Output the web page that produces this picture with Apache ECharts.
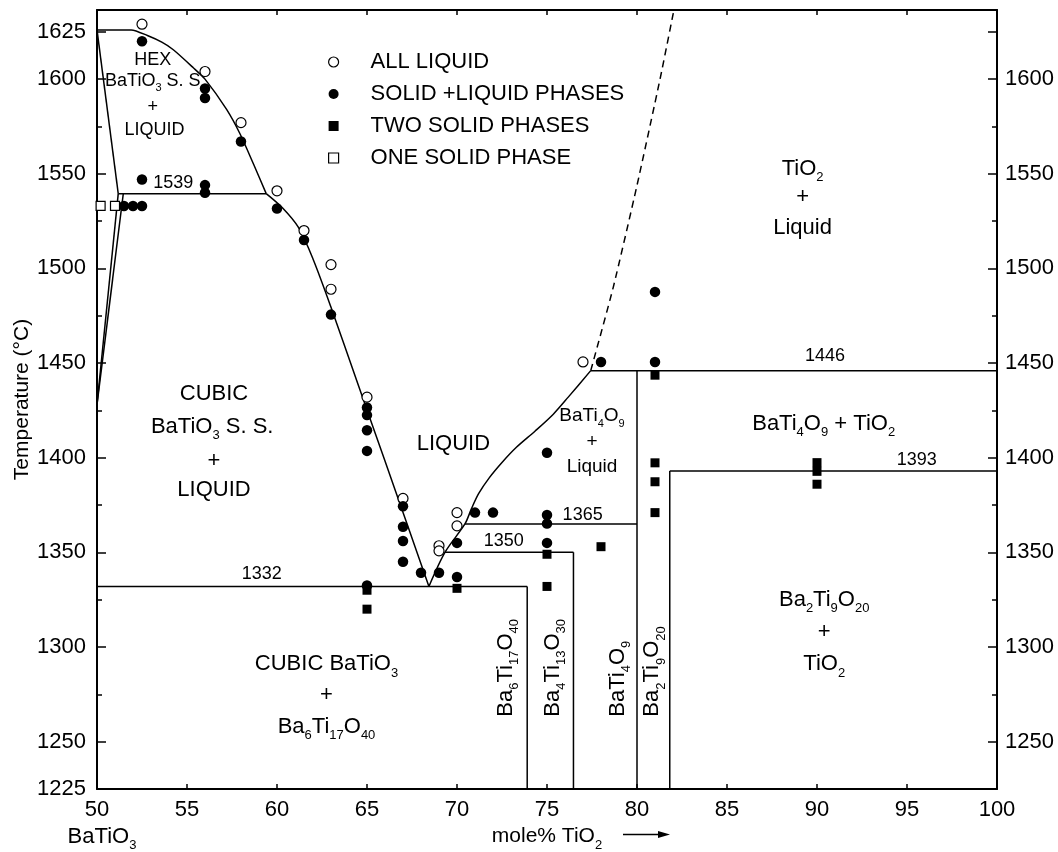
<!DOCTYPE html>
<html><head><meta charset="utf-8">
<script src="https://cdn.jsdelivr.net/npm/echarts@6/dist/echarts.min.js"></script>
<style>html,body{margin:0;padding:0;background:#fff}#c{width:1058px;height:852px}</style>
</head><body><div id="c"></div>
<script>
const FONT = '"Liberation Sans", Arial, Helvetica, sans-serif';

// ---- axes ----
const xMin = 50, xMax = 100, xStep = 5;
const yMin = 1225, yMax = 1636.5, yStep = 25;
const yLeftLabels = [1225, 1250, 1300, 1350, 1400, 1450, 1500, 1550, 1600, 1625];
const yRightLabels = [1250, 1300, 1350, 1400, 1450, 1500, 1550, 1600];
const yMajorTicks = [1250, 1300, 1350, 1400, 1450, 1500, 1550, 1600, 1625];

// ---- experimental points [mole% TiO2, T] ----
const allLiquid = [[52.5,1629],[56,1604],[58,1577],[60,1541],[61.5,1520],[63,1502],[63,1489],
  [65,1432],[67,1378.5],[69,1353.5],[69,1350.8],[70,1371],[70,1364],[77,1450.6]];
const solidLiquid = [[52.5,1620],[56,1595],[56,1590],[58,1567],[52.5,1547],[56,1544],[56,1540],
  [60,1531.6],[61.5,1515],[51.5,1533],[52,1533],[52.5,1533],[63,1475.6],[65,1426.5],[65,1422.5],
  [65,1414.5],[65,1403.6],[67,1374.4],[67,1363.5],[67,1356],[67,1345],[68,1339.2],[69,1339.2],
  [70,1355],[70,1337],[71,1371],[72,1371],[65,1332.5],[75,1402.6],[75,1369.7],[75,1365.2],
  [75,1355],[78,1450.6],[81,1487.6],[81,1450.6]];
const twoSolid = [[65,1330],[65,1320],[70,1331],[75,1349],[75,1332],[78,1353],[81,1443.6],
  [81,1397.3],[81,1387.3],[81,1371],[90,1397.4],[90,1392.8],[90,1386]];
const oneSolid = [[50.2,1533],[51,1533]];

// ---- phase boundaries ----
const hexLiquidus = [[50,1626],[51.9,1626],[52.8,1623],[53.6,1619.5],[54.24,1615.5],[55.35,1606],
  [56,1600],[57.2,1584],[57.95,1571],[58.7,1555],[59.4,1539.5]];
const cubicLiquidus = [[59.4,1539.5],[60.3,1532],[61.2,1521.5],[62,1505],[63,1479.5],
  [64.5,1438.8],[66,1398.2],[67.3,1363],[68.44,1332]];
const rightLiquidus = [[68.44,1332],[69.33,1350],[70.44,1365],[70.8,1373],[71.2,1381],[71.8,1389.5],
  [72.5,1397.5],[73.3,1405.5],[74.33,1414],[75.35,1423],[76.18,1432],[77.43,1446]];
const tio2Liquidus = [[77.43,1446],[78.68,1490],[79.98,1543],[81.28,1600],[82.05,1636.5]];
const hexSolidus = [[50,1626],[51.18,1539.5]];
const cubicSolidusA = [[51.18,1539.5],[50,1428]];
const cubicSolidusB = [[51.46,1539.5],[50,1428]];
const iso1539 = [[51.18,1539.5],[59.4,1539.5]];
const iso1332 = [[50,1332],[73.9,1332]];
const iso1350 = [[69.33,1350],[76.47,1350]];
const iso1365 = [[70.44,1365],[80,1365]];
const iso1446 = [[77.43,1446],[100,1446]];
const iso1393 = [[81.82,1393],[100,1393]];
const lineBa6Ti17O40 = [[73.9,1225],[73.9,1332]];
const lineBa4Ti13O30 = [[76.47,1225],[76.47,1350]];
const lineBaTi4O9 = [[80,1225],[80,1446]];
const lineBa2Ti9O20 = [[81.82,1225],[81.82,1393]];

// ---- annotations [x, T, text] ----
const regionLabels = [
  [56.5,1433.5,'CUBIC'],[56.4,1416.3,'BaTiO{s|3} S. S.'],[56.5,1398.3,'+'],[56.5,1383,'LIQUID'],
  [69.8,1407.2,'LIQUID'],
  [62.75,1291,'CUBIC BaTiO{s|3}'],[62.75,1274.6,'+'],[62.75,1258,'Ba{s|6}Ti{s|17}O{s|40}'],
  [90.37,1418,'BaTi{s|4}O{s|9} + TiO{s|2}'],
  [89.2,1552.6,'TiO{s|2}'],[89.2,1537.6,'+'],[89.2,1521.4,'Liquid'],
  [90.4,1325,'Ba{s|2}Ti{s|9}O{s|20}'],[90.4,1308,'+'],[90.4,1291,'TiO{s|2}']
];
const hexLabels = [[53.1,1610,'HEX'],[53.1,1598.8,'BaTiO{s|3} S. S'],[53.1,1585,'+'],[53.2,1573,'LIQUID']];
const bati4Labels = [[77.5,1422,'BaTi{s|4}O{s|9}'],[77.5,1408.3,'+'],[77.5,1395,'Liquid']];
const tempLabels = [[54.24,1545.1,'1539'],[59.15,1338.4,'1332'],[72.6,1355.9,'1350'],
  [76.98,1369.7,'1365'],[90.44,1453.6,'1446'],[95.54,1398.7,'1393']];
const compoundLabels = [[72.7,1263.2,'Ba{s|6}Ti{s|17}O{s|40}'],[75.32,1263.2,'Ba{s|4}Ti{s|13}O{s|30}'],
  [78.94,1263.2,'BaTi{s|4}O{s|9}'],[80.85,1263.2,'Ba{s|2}Ti{s|9}O{s|20}']];

function subRich(subSize, pad) {
  return { s: { fontSize: subSize, fontFamily: FONT, fill: '#000', padding: [pad, 0, 0, 0], lineHeight: subSize + pad } };
}
function textSeries(arr, size, subSize, pad, rotate, align) {
  return {
    type: 'custom', silent: true, z: 6, animation: false,
    data: arr.map(d => [d[0], d[1]]),
    renderItem: function (params, api) {
      const p = api.coord([api.value(0), api.value(1)]);
      return {
        type: 'text', x: p[0], y: p[1], rotation: rotate ? Math.PI / 2 : 0,
        style: {
          text: arr[params.dataIndex][2], fontSize: size, fontFamily: FONT, fill: '#000',
          align: align, verticalAlign: 'middle', rich: subRich(subSize, pad)
        }
      };
    }
  };
}
function lineSeries(data, opts) {
  return Object.assign({
    type: 'line', data: data, showSymbol: false, symbol: 'none', silent: true, z: 2,
    lineStyle: { color: '#000', width: 1.5 }, animation: false
  }, opts || {});
}
const ptStyle = { silent: true, z: 4, animation: false };

const series = [
  lineSeries(hexLiquidus, { smooth: 0.25 }),
  lineSeries(cubicLiquidus, { smooth: 0.3 }),
  lineSeries(rightLiquidus, { smooth: 0.3 }),
  lineSeries(tio2Liquidus, { smooth: 0.2, lineStyle: { color: '#000', width: 1.5, type: [7, 5] } }),
  lineSeries(hexSolidus), lineSeries(cubicSolidusA), lineSeries(cubicSolidusB),
  lineSeries(iso1539), lineSeries(iso1332), lineSeries(iso1350), lineSeries(iso1365),
  lineSeries(iso1446), lineSeries(iso1393),
  lineSeries(lineBa6Ti17O40), lineSeries(lineBa4Ti13O30), lineSeries(lineBaTi4O9), lineSeries(lineBa2Ti9O20),
  Object.assign({ name: 'ALL LIQUID', type: 'scatter', data: allLiquid, symbol: 'circle', symbolSize: 10,
    itemStyle: { color: '#fff', borderColor: '#000', borderWidth: 1.2, opacity: 1 } }, ptStyle),
  Object.assign({ name: 'SOLID +LIQUID PHASES', type: 'scatter', data: solidLiquid, symbol: 'circle', symbolSize: 10.5,
    itemStyle: { color: '#000', opacity: 1 } }, ptStyle),
  Object.assign({ name: 'TWO SOLID PHASES', type: 'scatter', data: twoSolid, symbol: 'rect', symbolSize: 9,
    itemStyle: { color: '#000', opacity: 1 } }, ptStyle),
  Object.assign({ name: 'ONE SOLID PHASE', type: 'scatter', data: oneSolid, symbol: 'rect', symbolSize: 9,
    itemStyle: { color: '#fff', borderColor: '#000', borderWidth: 1.2, opacity: 1 } }, ptStyle),
  textSeries(regionLabels, 22, 13, 18, false, 'center'),
  textSeries(hexLabels, 18, 11, 14, false, 'center'),
  textSeries(bati4Labels, 19, 11, 15, false, 'center'),
  textSeries(tempLabels, 18, 11, 14, false, 'center'),
  textSeries(compoundLabels, 22, 13, 18, true, 'left')
];

const axisLine = { show: true, onZero: false, lineStyle: { color: '#000', width: 2 } };
const tickStyle = { color: '#000', width: 1.5 };

const option = {
  animation: false,
  backgroundColor: '#fff',
  grid: { left: 97, right: 61, top: 10, bottom: 63, containLabel: false, outerBoundsMode: 'none' },
  legend: {
    orient: 'vertical', left: 328, top: 51, padding: 0, itemGap: 10, itemWidth: 10, itemHeight: 10,
    selectedMode: false,
    textStyle: { fontFamily: FONT, fontSize: 22, color: '#000', lineHeight: 22, padding: [0, 0, 0, 27] },
    data: [
      { name: 'ALL LIQUID', icon: 'circle', itemStyle: { color: '#fff', borderColor: '#000', borderWidth: 1.2 } },
      { name: 'SOLID +LIQUID PHASES', icon: 'circle', itemStyle: { color: '#000', borderWidth: 0 } },
      { name: 'TWO SOLID PHASES', icon: 'rect', itemStyle: { color: '#000', borderWidth: 0 } },
      { name: 'ONE SOLID PHASE', icon: 'rect', itemStyle: { color: '#fff', borderColor: '#000', borderWidth: 1.2 } }
    ]
  },
  xAxis: [
    {
      type: 'value', position: 'bottom', min: xMin, max: xMax, interval: xStep,
      axisLine: axisLine, splitLine: { show: false },
      axisTick: { inside: true, length: 5, lineStyle: tickStyle },
      axisLabel: {
        fontFamily: FONT, fontSize: 22, color: '#000', margin: 10,
        formatter: v => v === xMin ? '{n|' + v + '}\n{t|BaTiO}{s|3}' : String(v),
        rich: {
          n: { fontFamily: FONT, fontSize: 22, color: '#000' },
          t: { fontFamily: FONT, fontSize: 22, color: '#000', padding: [0, 0, 0, 10] },
          s: { fontFamily: FONT, fontSize: 13, color: '#000', padding: [18, 0, 0, 0], lineHeight: 31 }
        }
      },
      name: '{t|mole% TiO}{s|2}', nameLocation: 'middle', nameGap: 32, nameMoveOverlap: false,
      nameTextStyle: {
        fontFamily: FONT, fontSize: 21, color: '#000', verticalAlign: 'top',
        rich: {
          t: { fontFamily: FONT, fontSize: 21, color: '#000' },
          s: { fontFamily: FONT, fontSize: 13, color: '#000', padding: [18, 0, 0, 0], lineHeight: 31 }
        }
      }
    },
    {
      type: 'value', position: 'top', min: xMin, max: xMax, interval: xStep,
      axisLine: axisLine, splitLine: { show: false },
      axisTick: { inside: true, length: 5, lineStyle: tickStyle },
      axisLabel: { show: false }
    }
  ],
  yAxis: [
    {
      type: 'value', position: 'left', min: yMin, max: yMax, interval: yStep,
      axisLine: axisLine, splitLine: { show: false },
      axisTick: { inside: true, length: 5, lineStyle: tickStyle },
      axisLabel: {
        fontFamily: FONT, fontSize: 22, color: '#000', margin: 11, customValues: yLeftLabels,
        formatter: v => yLeftLabels.indexOf(v) >= 0 ? String(v) : ''
      },
      name: 'Temperature (°C)', nameLocation: 'middle', nameGap: 64, nameRotate: 90, nameMoveOverlap: false,
      nameTextStyle: { fontFamily: FONT, fontSize: 21, color: '#000' }
    },
    {
      type: 'value', position: 'left', min: yMin, max: yMax, interval: yStep,
      axisLine: { show: false }, splitLine: { show: false },
      axisTick: { inside: true, length: 9, lineStyle: tickStyle, customValues: yMajorTicks },
      axisLabel: { show: false }
    },
    {
      type: 'value', position: 'right', min: yMin, max: yMax, interval: yStep,
      axisLine: axisLine, splitLine: { show: false },
      axisTick: { inside: true, length: 5, lineStyle: tickStyle },
      axisLabel: {
        fontFamily: FONT, fontSize: 22, color: '#000', margin: 8, customValues: yRightLabels,
        formatter: v => yRightLabels.indexOf(v) >= 0 ? String(v) : ''
      }
    },
    {
      type: 'value', position: 'right', min: yMin, max: yMax, interval: yStep,
      axisLine: { show: false }, splitLine: { show: false },
      axisTick: { inside: true, length: 9, lineStyle: tickStyle, customValues: yMajorTicks },
      axisLabel: { show: false }
    }
  ],
  graphic: [
    { type: 'line', shape: { x1: 623, y1: 834.5, x2: 662, y2: 834.5 }, style: { stroke: '#000', lineWidth: 1.5 }, silent: true },
    { type: 'polygon', shape: { points: [[658, 831], [670, 834.5], [658, 838]] }, style: { fill: '#000' }, silent: true }
  ],
  series: series
};

const chart = echarts.init(document.getElementById('c'), null, { renderer: 'canvas' });
chart.setOption(option);
</script>
</body></html>
